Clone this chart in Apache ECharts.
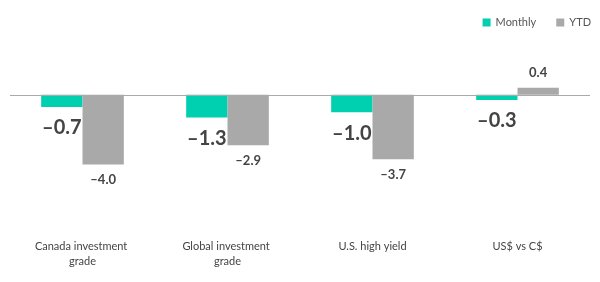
<!DOCTYPE html>
<html><head><meta charset="utf-8">
<script src="https://cdn.jsdelivr.net/npm/echarts@6/dist/echarts.min.js"></script>
<style>html,body{margin:0;padding:0;background:#fff}#c{width:600px;height:282px}</style>
</head><body><div id="c"></div>
<script>
const categories = ["Canada investment grade", "Global investment grade", "U.S. high yield", "US$ vs C$"];
const monthly = [-0.7, -1.3, -1.0, -0.3];
const ytd = [-4.0, -2.9, -3.7, 0.4];
const seriesNames = ["Monthly", "YTD"];

const font = "Lato, 'Noto Sans', sans-serif";
const chart = echarts.init(document.getElementById('c'), null, {renderer: 'canvas'});
chart.setOption({
  animation: false,
  textStyle: {fontFamily: font},
  legend: {
    data: seriesNames, right: 4, top: 12, itemWidth: 8, itemHeight: 8, itemGap: 20,
    icon: 'rect', textStyle: {fontSize: 11, color: '#555', fontFamily: font}
  },
  grid: {left: 10, right: 10, top: 60, height: 174},
  xAxis: {
    type: 'category', data: categories,
    axisLine: {show: false, onZero: false}, axisTick: {show: false},
    axisLabel: {fontSize: 11, color: '#444', margin: 5, width: 100, overflow: 'break', lineHeight: 15, interval: 0}
  },
  yAxis: {type: 'value', min: -8, max: 2, show: false, splitLine: {show: false}},
  series: [
    {
      name: seriesNames[0], type: 'bar', data: monthly, barGap: '0%', barCategoryGap: '43%',
      itemStyle: {color: '#00D0B0'},
      label: {show: true, position: 'bottom', distance: 11, fontSize: 20, fontWeight: 'bold', color: '#444', fontFamily: font,
        formatter: p => p.value.toFixed(1).replace('-', '\u2013')},
      markLine: {silent: true, symbol: 'none', label: {show: false},
        lineStyle: {color: '#aaa', width: 1, type: 'solid'}, data: [{yAxis: 0}]}
    },
    {
      name: seriesNames[1], type: 'bar', data: ytd, barGap: '0%', barCategoryGap: '43%',
      itemStyle: {color: '#A9A9A9'},
      label: {show: true, fontSize: 13, fontWeight: 'bold', color: '#444', fontFamily: font,
        formatter: p => p.value.toFixed(1).replace('-', '\u2013')}
    }
  ]
});
chart.setOption({series: [{}, {data: ytd.map(v => ({value: v, label: {position: v < 0 ? 'bottom' : 'top', distance: 9}}))}]});
</script></body></html>
